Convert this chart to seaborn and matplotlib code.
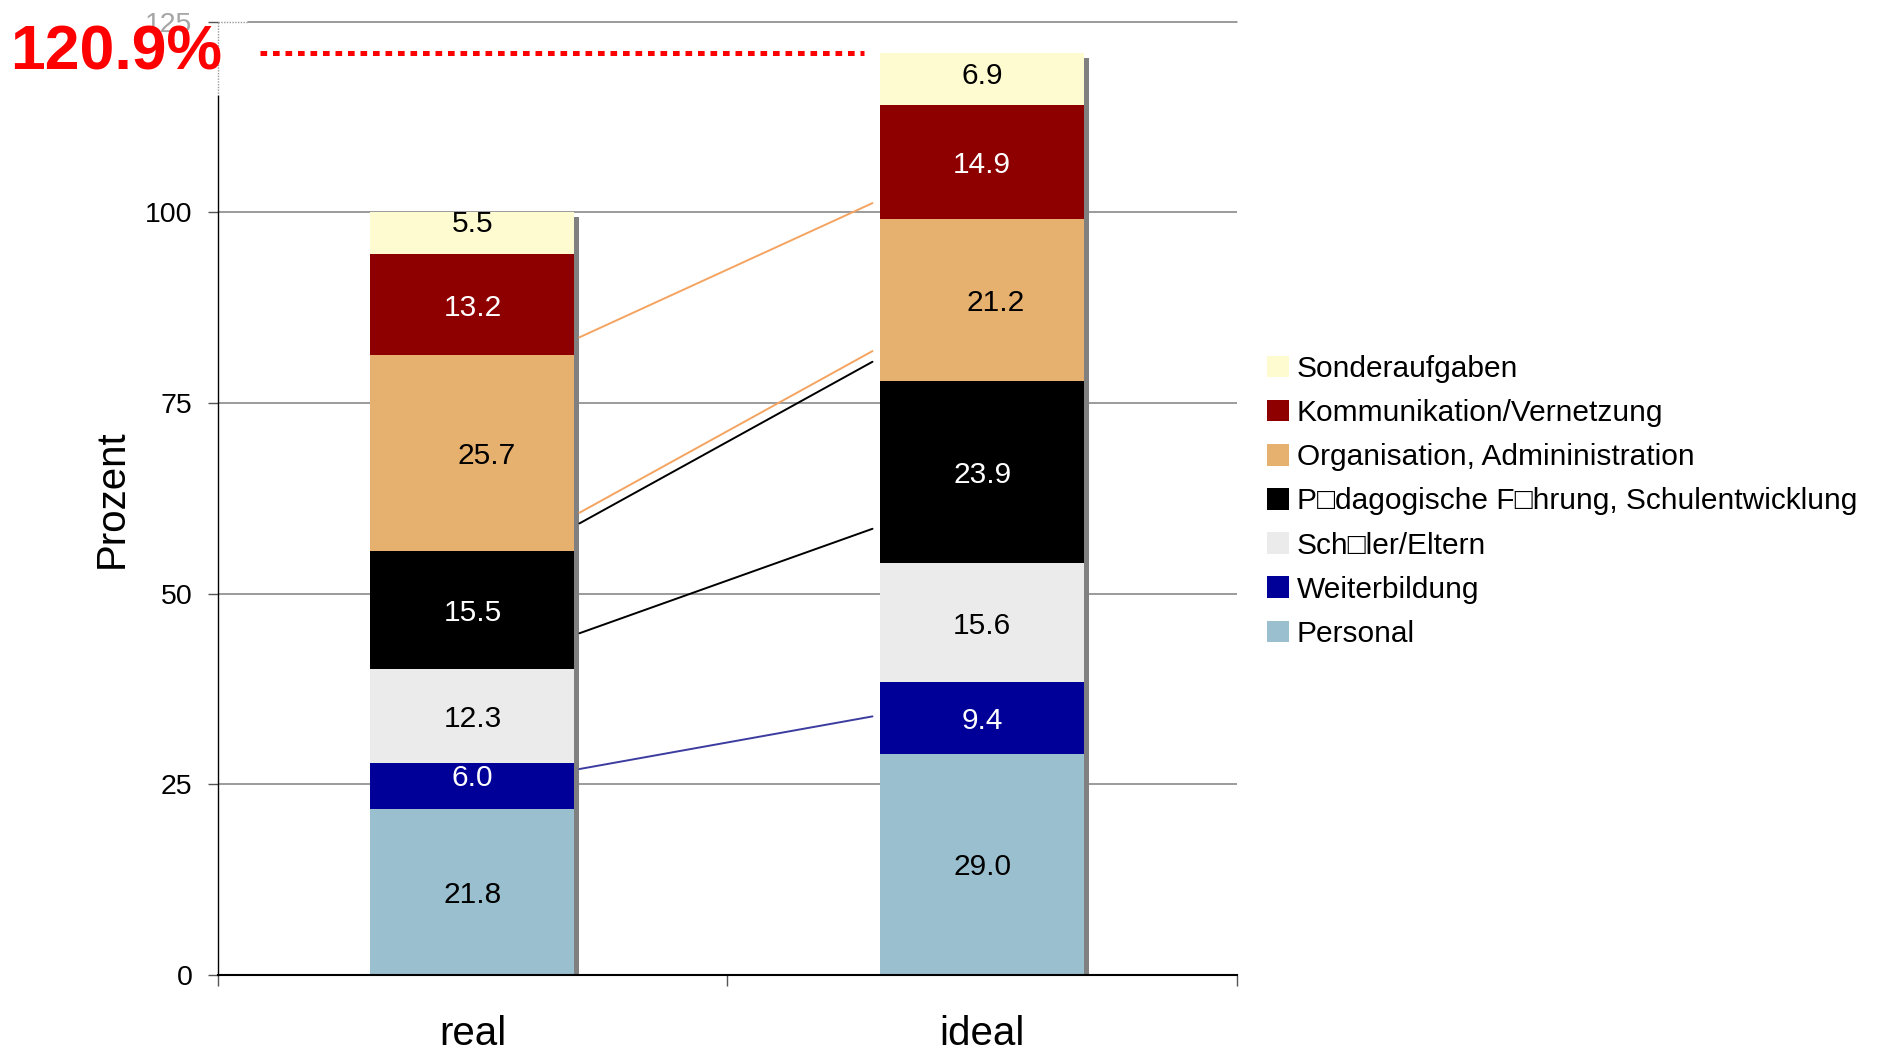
import numpy as np
import pandas as pd
import matplotlib
matplotlib.use("Agg")
import matplotlib.pyplot as plt
from matplotlib.patches import Patch
import seaborn as sns

# ---- data -------------------------------------------------------------
szenarien = ["real", "ideal"]
bereiche = [
    "Personal",
    "Weiterbildung",
    "Sch\u25a1ler/Eltern",
    "P\u25a1dagogische F\u25a1hrung, Schulentwicklung",
    "Organisation, Admininistration",
    "Kommunikation/Vernetzung",
    "Sonderaufgaben",
]
real_werte = [21.8, 6.0, 12.3, 15.5, 25.7, 13.2, 5.5]
ideal_werte = [29.0, 9.4, 15.6, 23.9, 21.2, 14.9, 6.9]
y_ticks = [0, 25, 50, 75, 100, 125]

# connector lines drawn between the two bars (value at left end, value at right end)
verbinder_start = [83.6, 60.6, 59.2, 44.8, 27.0]
verbinder_ende = [101.2, 81.8, 80.4, 58.5, 33.9]

# ---- styling ----------------------------------------------------------
farben = ["#9ABFCE", "#000099", "#EBEBEB", "#000000", "#E6B06E", "#8E0000", "#FFFBD0"]
textfarben = ["black", "white", "black", "white", "black", "white", "black"]
verbinder_farben = ["#F4A460", "#F4A460", "#000000", "#000000", "#3C3CA0"]
# small shifts of some value labels (category units, percent units)
label_dx = {4: 0.027}
label_dy = {(0, 6): 1.6, (0, 1): 1.45, (1, 6): 0.85}

sns.set_theme(style="white", rc={
    "text.color": "black", "axes.labelcolor": "black",
    "xtick.color": "black", "ytick.color": "black",
})
plt.rcParams["font.family"] = ["Liberation Sans", "DejaVu Sans"]

W, H = 1885, 1048
fig = plt.figure(figsize=(W / 100, H / 100), dpi=100)
ax_l, ax_b, ax_w, ax_h = 0.1154, 0.0697, 0.5408, 0.9097
ax = fig.add_axes([ax_l, ax_b, ax_w, ax_h])

# long table with cumulative tops per segment
rows = []
for sz, werte in zip(szenarien, [real_werte, ideal_werte]):
    kum = np.cumsum(werte)
    for i, (b, v) in enumerate(zip(bereiche, werte)):
        rows.append({"Szenario": sz, "Bereich": b, "Wert": v,
                     "Kumuliert": kum[i], "Unten": kum[i] - v, "idx": i})
df = pd.DataFrame(rows)

# grid lines underneath everything
for v in y_ticks[1:-1]:
    ax.axhline(v, color="#808080", lw=1.1, zorder=0)
ax.axhline(y_ticks[-1], xmin=0.03, xmax=1, color="#808080", lw=1.1, zorder=0, clip_on=False)
ax.plot([-0.5, -0.44], [y_ticks[-1], y_ticks[-1]], color="#999999", lw=1, ls=(0, (1, 1)),
        zorder=0, clip_on=False)

# stacked bars: draw cumulative heights from the top segment downwards
bar_w = 0.4
for i in reversed(range(len(bereiche))):
    sub = df[df["idx"] == i]
    sns.barplot(data=sub, x="Szenario", y="Kumuliert", order=szenarien,
                color=farben[i], saturation=1, width=bar_w, errorbar=None,
                linewidth=0, ax=ax, zorder=2)

ax.set_xlim(-0.5, 1.5)
ax.set_ylim(0, 125)

# grey drop shadow on the right side of each bar
px_x = ax_w * W / 2.0
px_y = ax_h * H / 125.0
sw, sdrop = 5 / px_x, 5 / px_y
totals = df.groupby("Szenario", sort=False)["Wert"].sum().reindex(szenarien).values
pos = np.arange(len(szenarien))
ax.bar(pos + bar_w / 2 + sw / 2, totals - sdrop, width=sw, color="#808080",
       linewidth=0, zorder=2)

# value labels
for _, r in df.iterrows():
    j = szenarien.index(r["Szenario"])
    i = int(r["idx"])
    y = r["Unten"] + r["Wert"] / 2 + label_dy.get((j, i), 0)
    ax.text(j + label_dx.get(i, 0), y, f"{r['Wert']:.1f}", ha="center",
            va="center_baseline", color=textfarben[i], fontsize=21.5, zorder=4)

# connector lines between the bars
for s, e, c in zip(verbinder_start, verbinder_ende, verbinder_farben):
    ax.plot([0.21, 0.785], [s, e], color=c, lw=1.4, zorder=3)

# red dotted line at the total of the ideal bar
gesamt = totals[1]
ax.plot([-0.416, 0.768], [gesamt, gesamt], color="red", lw=3.6,
        ls=(0, (1.33, 1.17)), zorder=3, clip_on=False)
fig.text(10 / W, 1 - 70 / H, f"{gesamt:.1f}%", color="red", fontsize=45,
         fontweight="bold", ha="left", va="baseline")

# axes styling
for s in ["top", "right"]:
    ax.spines[s].set_visible(False)
ax.spines["left"].set_color("black")
ax.spines["left"].set_linewidth(1)
ax.spines["left"].set_bounds(0, 115.2)
ax.plot([-0.5, -0.5], [115.2, 125], color="#999999", lw=1, ls=(0, (1, 1)), clip_on=False)
ax.spines["bottom"].set_color("black")
ax.spines["bottom"].set_linewidth(1.5)

ax.set_yticks(y_ticks)
ax.set_yticklabels([str(t) for t in y_ticks])
ax.tick_params(axis="y", left=True, length=7.2, width=1, color="#555555", pad=10.8,
               labelsize=20.5)
ax.get_yticklabels()[-1].set_color("#A6A6A6")

ax.set_xticks(pos)
ax.set_xticklabels(szenarien)
ax.tick_params(axis="x", which="major", bottom=False, length=0, pad=28.5, labelsize=29)
ax.set_xticks([-0.5, 0.5, 1.5], minor=True)
ax.tick_params(axis="x", which="minor", bottom=True, length=8, width=1, color="#555555")

ax.set_xlabel("")
ax.set_ylabel("Prozent", fontsize=29)
ax.yaxis.set_label_coords(-0.0854, 0.5)

# legend, top segment first
handles = [Patch(facecolor=farben[i], edgecolor="none", label=bereiche[i])
           for i in reversed(range(len(bereiche)))]
fig.legend(handles=handles, loc="upper left", bbox_to_anchor=(1267 / W, 1 - 355 / H),
           frameon=False, fontsize=21.5, handlelength=0.73, handleheight=0.73,
           handletextpad=0.26, labelspacing=0.54, borderpad=0, borderaxespad=0)

fig.savefig("out.png", dpi=100)
